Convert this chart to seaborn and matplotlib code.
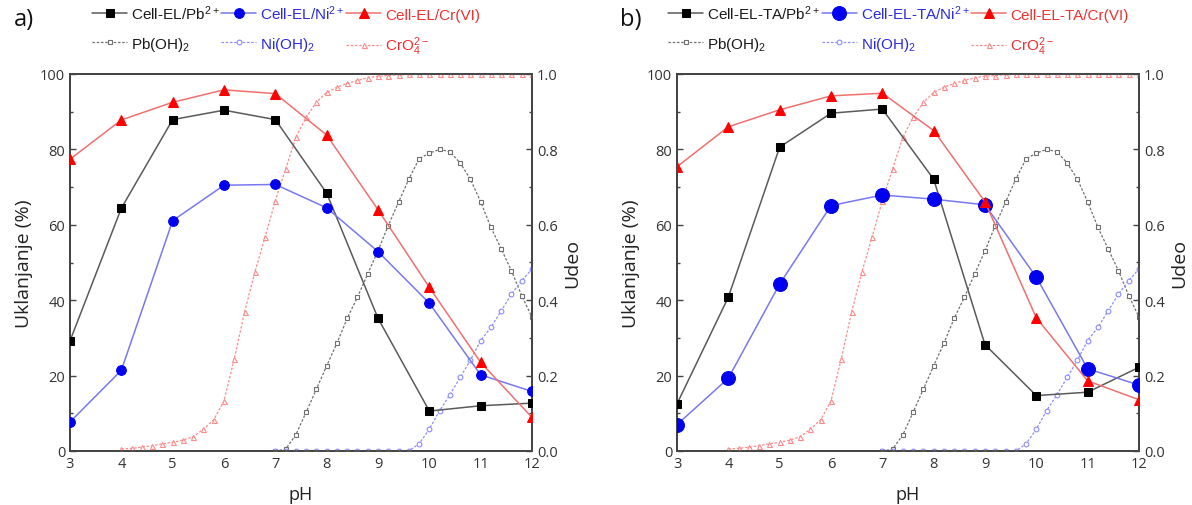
import numpy as np
import pandas as pd
import seaborn as sns
import matplotlib
matplotlib.use("Agg")
import matplotlib.pyplot as plt
from matplotlib.ticker import MultipleLocator

sns.set_theme(style="white")
plt.rcParams['font.family'] = ['Liberation Sans', 'DejaVu Sans']
plt.rcParams['mathtext.fontset'] = 'custom'
plt.rcParams['mathtext.rm'] = 'Liberation Sans'
plt.rcParams['mathtext.default'] = 'regular'

# ---------------- data ----------------
ph = [3, 4, 5, 6, 7, 8, 9, 10, 11, 12]

# panel a) Cell-EL
el_pb = [29.2, 64.4, 87.9, 90.4, 87.9, 68.4, 35.2, 10.6, 12.0, 12.7]
el_ni = [7.7, 21.4, 61.1, 70.5, 70.7, 64.5, 52.9, 39.2, 20.2, 15.8]
el_cr = [77.4, 87.8, 92.5, 95.8, 94.8, 83.8, 64.0, 43.4, 23.5, 8.9]

# panel b) Cell-EL-TA
ta_pb = [12.5, 40.8, 80.6, 89.6, 90.7, 72.1, 28.2, 14.7, 15.6, 22.2]
ta_ni = [7.0, 19.3, 44.3, 65.1, 67.9, 66.8, 65.3, 46.1, 21.8, 17.5]
ta_cr = [75.4, 86.0, 90.5, 94.2, 94.9, 85.0, 66.1, 35.3, 18.6, 13.6]

# speciation (fraction, right axis)
ph_cro4 = [4.0, 4.2, 4.4, 4.6, 4.8, 5.0, 5.2, 5.4, 5.6, 5.8, 6.0, 6.2, 6.4, 6.6,
           6.8, 7.0, 7.2, 7.4, 7.6, 7.8, 8.0, 8.2, 8.4, 8.6, 8.8, 9.0, 9.2, 9.4,
           9.6, 9.8, 10.0, 10.2, 10.4, 10.6, 10.8, 11.0, 11.2, 11.4, 11.6, 11.8, 12.0]
cro4 = [0.005, 0.007, 0.010, 0.014, 0.019, 0.023, 0.029, 0.038, 0.058, 0.083,
        0.133, 0.244, 0.368, 0.474, 0.567, 0.664, 0.748, 0.832, 0.885, 0.925,
        0.951, 0.965, 0.975, 0.983, 0.990, 0.994, 0.996, 0.998, 0.999, 1.0,
        1.0, 1.0, 1.0, 1.0, 1.0, 1.0, 1.0, 1.0, 1.0, 1.0, 1.0]

ph_hyd = [7.0, 7.2, 7.4, 7.6, 7.8, 8.0, 8.2, 8.4, 8.6, 8.8, 9.0, 9.2, 9.4, 9.6,
          9.8, 10.0, 10.2, 10.4, 10.6, 10.8, 11.0, 11.2, 11.4, 11.6, 11.8, 12.0]
pb_oh2 = [0.0, 0.005, 0.043, 0.103, 0.164, 0.226, 0.286, 0.352, 0.408, 0.470,
          0.531, 0.598, 0.660, 0.721, 0.775, 0.790, 0.800, 0.794, 0.764, 0.721,
          0.661, 0.593, 0.536, 0.478, 0.412, 0.355]
ni_oh2 = [0.0, 0.0, 0.0, 0.0, 0.0, 0.0, 0.0, 0.0, 0.0, 0.0, 0.0, 0.0, 0.0, 0.0,
          0.019, 0.058, 0.107, 0.149, 0.195, 0.241, 0.293, 0.328, 0.372, 0.416,
          0.452, 0.483]

labels_a = [r'Cell-EL/Pb$^{2+}$', r'Cell-EL/Ni$^{2+}$', r'Cell-EL/Cr(VI)']
labels_b = [r'Cell-EL-TA/Pb$^{2+}$', r'Cell-EL-TA/Ni$^{2+}$', r'Cell-EL-TA/Cr(VI)']
spec_labels = [r'Pb(OH)$_2$', r'Ni(OH)$_2$', r'CrO$_4^{2-}$']

# ---------------- style ----------------
C_PB_LINE, C_PB_MK = '#5a5a5a', '#000000'
C_NI_LINE, C_NI_MK = '#7878f0', '#0000f0'
C_CR_LINE, C_CR_MK = '#f07070', '#ff0000'
C_PB_SP, C_NI_SP, C_CR_SP = '#707070', '#8c8cff', '#ff8a8a'
TXT_PB, TXT_NI, TXT_CR = '#1a1a1a', '#2a2ae0', '#f03030'
SPINE = '#444444'
TICKFONT = ['Open Sans', 'DejaVu Sans']

W, H = 1192, 506
fig = plt.figure(figsize=(W / 100, H / 100), dpi=100)
axA = fig.add_axes([70 / W, 54 / H, 462 / W, 377 / H])
axB = fig.add_axes([677 / W, 54 / H, 462 / W, 377 / H])


def style_axis(ax):
    for s in ax.spines.values():
        s.set_color(SPINE)
        s.set_linewidth(1.3)
    ax.tick_params(which='both', direction='in', colors=SPINE, labelcolor='#333333',
                   labelsize=10.5, width=1.0)
    ax.tick_params(which='major', length=4.5)
    ax.tick_params(which='minor', length=2.5)
    for lab in ax.get_xticklabels() + ax.get_yticklabels():
        lab.set_family(TICKFONT)


def draw(ax, pb, ni, cr, labels, ms_pb, ms_ni, ms_cr):
    sns.lineplot(x=ph, y=pb, ax=ax, color=C_PB_LINE, lw=1.1, marker='s', ms=ms_pb,
                 markerfacecolor=C_PB_MK, markeredgecolor=C_PB_MK, label=labels[0],
                 zorder=5)
    sns.lineplot(x=ph, y=ni, ax=ax, color=C_NI_LINE, lw=1.1, marker='o', ms=ms_ni,
                 markerfacecolor=C_NI_MK, markeredgecolor=C_NI_MK, label=labels[1],
                 zorder=5)
    sns.lineplot(x=ph, y=cr, ax=ax, color=C_CR_LINE, lw=1.1, marker='^', ms=ms_cr,
                 markerfacecolor=C_CR_MK, markeredgecolor=C_CR_MK, label=labels[2],
                 zorder=5)
    ax.set_xlim(3, 12)
    ax.set_ylim(0, 100)
    ax.xaxis.set_major_locator(MultipleLocator(1))
    ax.xaxis.set_minor_locator(MultipleLocator(0.5))
    ax.yaxis.set_major_locator(MultipleLocator(20))
    ax.yaxis.set_minor_locator(MultipleLocator(10))
    ax.set_xlabel('pH', fontsize=13, family=TICKFONT, color='#222222', labelpad=10)
    ax.set_ylabel('Uklanjanje (%)', fontsize=14, family=TICKFONT, color='#222222',
                  labelpad=5)
    ax.tick_params(top=False, right=False)
    style_axis(ax)

    tw = ax.twinx()
    sp_ls = (0, (2.0, 1.4))
    sns.lineplot(x=ph_hyd, y=pb_oh2, ax=tw, color=C_PB_SP, lw=0.9, ls=sp_ls,
                 marker='s', ms=3.4, markerfacecolor='white', markeredgecolor=C_PB_SP,
                 markeredgewidth=0.8, label=spec_labels[0], zorder=3)
    sns.lineplot(x=ph_hyd, y=ni_oh2, ax=tw, color=C_NI_SP, lw=0.9, ls=sp_ls,
                 marker='o', ms=3.4, markerfacecolor='white', markeredgecolor=C_NI_SP,
                 markeredgewidth=0.8, label=spec_labels[1], zorder=3)
    sns.lineplot(x=ph_cro4, y=cro4, ax=tw, color=C_CR_SP, lw=0.9, ls=sp_ls,
                 marker='^', ms=3.6, markerfacecolor='white', markeredgecolor=C_CR_SP,
                 markeredgewidth=0.8, label=spec_labels[2], zorder=3)
    tw.set_ylim(0, 1)
    tw.set_xlim(3, 12)
    tw.yaxis.set_major_locator(MultipleLocator(0.2))
    tw.yaxis.set_minor_locator(MultipleLocator(0.1))
    tw.yaxis.set_major_formatter(matplotlib.ticker.FormatStrFormatter('%.1f'))
    tw.set_ylabel('Udeo', fontsize=14, family=TICKFONT, color='#222222', labelpad=4)
    style_axis(tw)
    ax.set_zorder(tw.get_zorder() + 1)
    ax.patch.set_visible(False)

    h1, l1 = ax.get_legend_handles_labels()
    h2, l2 = tw.get_legend_handles_labels()
    ax.get_legend().remove()
    tw.get_legend().remove()
    return h1, l1, h2, l2


def add_legend(h1, l1, h2, l2, x0, y0):
    handles = [h1[0], h2[0], h1[1], h2[1], h1[2], h2[2]]
    labels = [l1[0], l2[0], l1[1], l2[1], l1[2], l2[2]]
    leg = fig.legend(handles, labels, ncol=3, loc='upper left',
                     bbox_to_anchor=(x0 / W, 1 - y0 / H), frameon=False,
                     fontsize=11, handlelength=2.3, handletextpad=0.25,
                     columnspacing=0.1, labelspacing=0.85, borderaxespad=0,
                     borderpad=0)
    cols = [TXT_PB, TXT_PB, TXT_NI, TXT_NI, TXT_CR, TXT_CR]
    for t, c in zip(leg.get_texts(), cols):
        t.set_color(c)
    return leg


h1, l1, h2, l2 = draw(axA, el_pb, el_ni, el_cr, labels_a, 6.0, 7.0, 7.0)
add_legend(h1, l1, h2, l2, 92, 4)
h1, l1, h2, l2 = draw(axB, ta_pb, ta_ni, ta_cr, labels_b, 5.5, 10.0, 7.0)
add_legend(h1, l1, h2, l2, 668, 4)

fig.text(14 / W, 1 - 20 / H, 'a)', fontsize=17, family=TICKFONT, color='#111111',
         va='center', ha='left')
fig.text(620 / W, 1 - 20 / H, 'b)', fontsize=17, family=TICKFONT, color='#111111',
         va='center', ha='left')

fig.savefig('out.png', dpi=100)
